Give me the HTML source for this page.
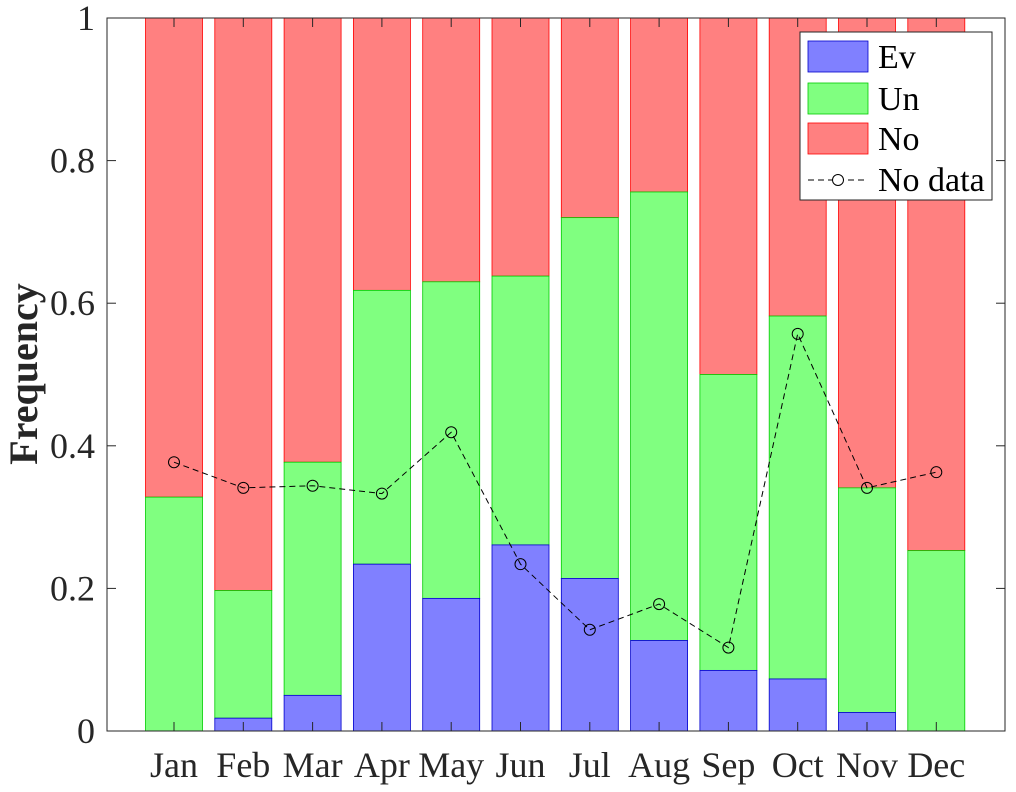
<!DOCTYPE html>
<html><head><meta charset="utf-8"><style>
body{margin:0;background:#fff}
svg{display:block;font-family:"Liberation Serif",serif}
</style></head><body>
<svg id="chart" width="1016" height="792" xmlns="http://www.w3.org/2000/svg">
<rect x="0" y="0" width="1016" height="792" fill="#fff"/>
<g id="bars"></g>
<g id="line"></g>
<g id="axes"></g>
<g id="legend"></g>
</svg>
<script>
const months=["Jan","Feb","Mar","Apr","May","Jun","Jul","Aug","Sep","Oct","Nov","Dec"];
const evVals=[0,0.018,0.05,0.234,0.186,0.261,0.214,0.127,0.085,0.073,0.026,0];
const unTops=[0.328,0.197,0.377,0.618,0.630,0.638,0.720,0.756,0.500,0.582,0.341,0.253];
const noDataVals=[0.377,0.341,0.344,0.333,0.419,0.234,0.142,0.178,0.117,0.557,0.341,0.363];
const yTicks=[0,0.2,0.4,0.6,0.8,1];
const yTickLabels=["0","0.2","0.4","0.6","0.8","1"];

const NS="http://www.w3.org/2000/svg";
const L=107,R=1005,T=18,B=731;
const x0=174,step=69.3,bw=57;
const xs=i=>x0+i*step;
const ys=v=>B-v*(B-T);
function mk(tag,attrs,parent){const e=document.createElementNS(NS,tag);for(const k in attrs)e.setAttribute(k,attrs[k]);parent.appendChild(e);return e;}
const bars=document.getElementById('bars');
months.forEach((m,i)=>{
  const cx=xs(i);
  let r=mk('rect',{x:cx-bw/2,y:ys(1),width:bw,height:ys(unTops[i])-ys(1),fill:'#ff8080',stroke:'#ff0000','stroke-width':0.8},bars);
  
  
  r=mk('rect',{x:cx-bw/2,y:ys(unTops[i]),width:bw,height:ys(evVals[i])-ys(unTops[i]),fill:'#80ff80',stroke:'#00cc00','stroke-width':0.8},bars);
  
  
  if(evVals[i]>0){
    r=mk('rect',{x:cx-bw/2,y:ys(evVals[i]),width:bw,height:ys(0)-ys(evVals[i]),fill:'#8080ff',stroke:'#0000cc','stroke-width':0.8},bars);
    
    
  }
});
const lg=document.getElementById('line');
const pl=mk('polyline',{points:noDataVals.map((v,i)=>xs(i)+','+ys(v)).join(' '),fill:'none',stroke:'#000','stroke-width':1,'stroke-dasharray':'6,4'},lg);


noDataVals.forEach((v,i)=>{
  const c=mk('circle',{cx:xs(i),cy:ys(v),r:5.5,fill:'none',stroke:'#000','stroke-width':1},lg);
  
  
});
const ax=document.getElementById('axes');
const box=mk('rect',{x:L,y:T,width:R-L,height:B-T,fill:'none',stroke:'#262626','stroke-width':1},ax);


yTicks.forEach((v,i)=>{
  const y=ys(v);
  mk('line',{x1:L,x2:L+9,y1:y,y2:y,stroke:'#262626'},ax);
  mk('line',{x1:R,x2:R-9,y1:y,y2:y,stroke:'#262626'},ax);
  const t=mk('text',{x:L-12,y:y+12,'text-anchor':'end','font-size':36,fill:'#262626'},ax);
  t.textContent=yTickLabels[i];
  
  
});
months.forEach((m,i)=>{
  const x=xs(i);
  mk('line',{x1:x,x2:x,y1:B,y2:B-9,stroke:'#262626'},ax);
  mk('line',{x1:x,x2:x,y1:T,y2:T+9,stroke:'#262626'},ax);
  const t=mk('text',{x:x,y:777,'text-anchor':'middle','font-size':36,fill:'#262626'},ax);
  t.textContent=m;
  
  
});
const yl=mk('text',{x:0,y:0,transform:'translate(37,374) rotate(-90)','text-anchor':'middle','font-size':40,'font-weight':'bold',fill:'#262626'},ax);
yl.textContent='Frequency';


const lgd=document.getElementById('legend');
const lb=mk('rect',{x:800,y:32,width:192,height:168,fill:'#fff',stroke:'#262626','stroke-width':1},lgd);


const entries=[["Ev","#8080ff","#0000cc",57],["Un","#80ff80","#00cc00",99],["No","#ff8080","#ff0000",139]];
entries.forEach(e=>{
  const g=mk('g',{},lgd);
  
  
  mk('rect',{x:808,y:e[3]-16,width:60,height:31,fill:e[1],stroke:e[2],'stroke-width':0.8},g);
  const t=mk('text',{x:878,y:e[3]+11,'font-size':34,fill:'#000'},g);
  t.textContent=e[0];
});
const g=mk('g',{},lgd);


mk('line',{x1:808,x2:868,y1:180,y2:180,stroke:'#000','stroke-dasharray':'6,4'},g);
mk('circle',{cx:838,cy:180,r:5.5,fill:'#fff',stroke:'#000'},g);
const t=mk('text',{x:878,y:191,'font-size':34,fill:'#000'},g);
t.textContent='No data';
</script>
</body></html>
